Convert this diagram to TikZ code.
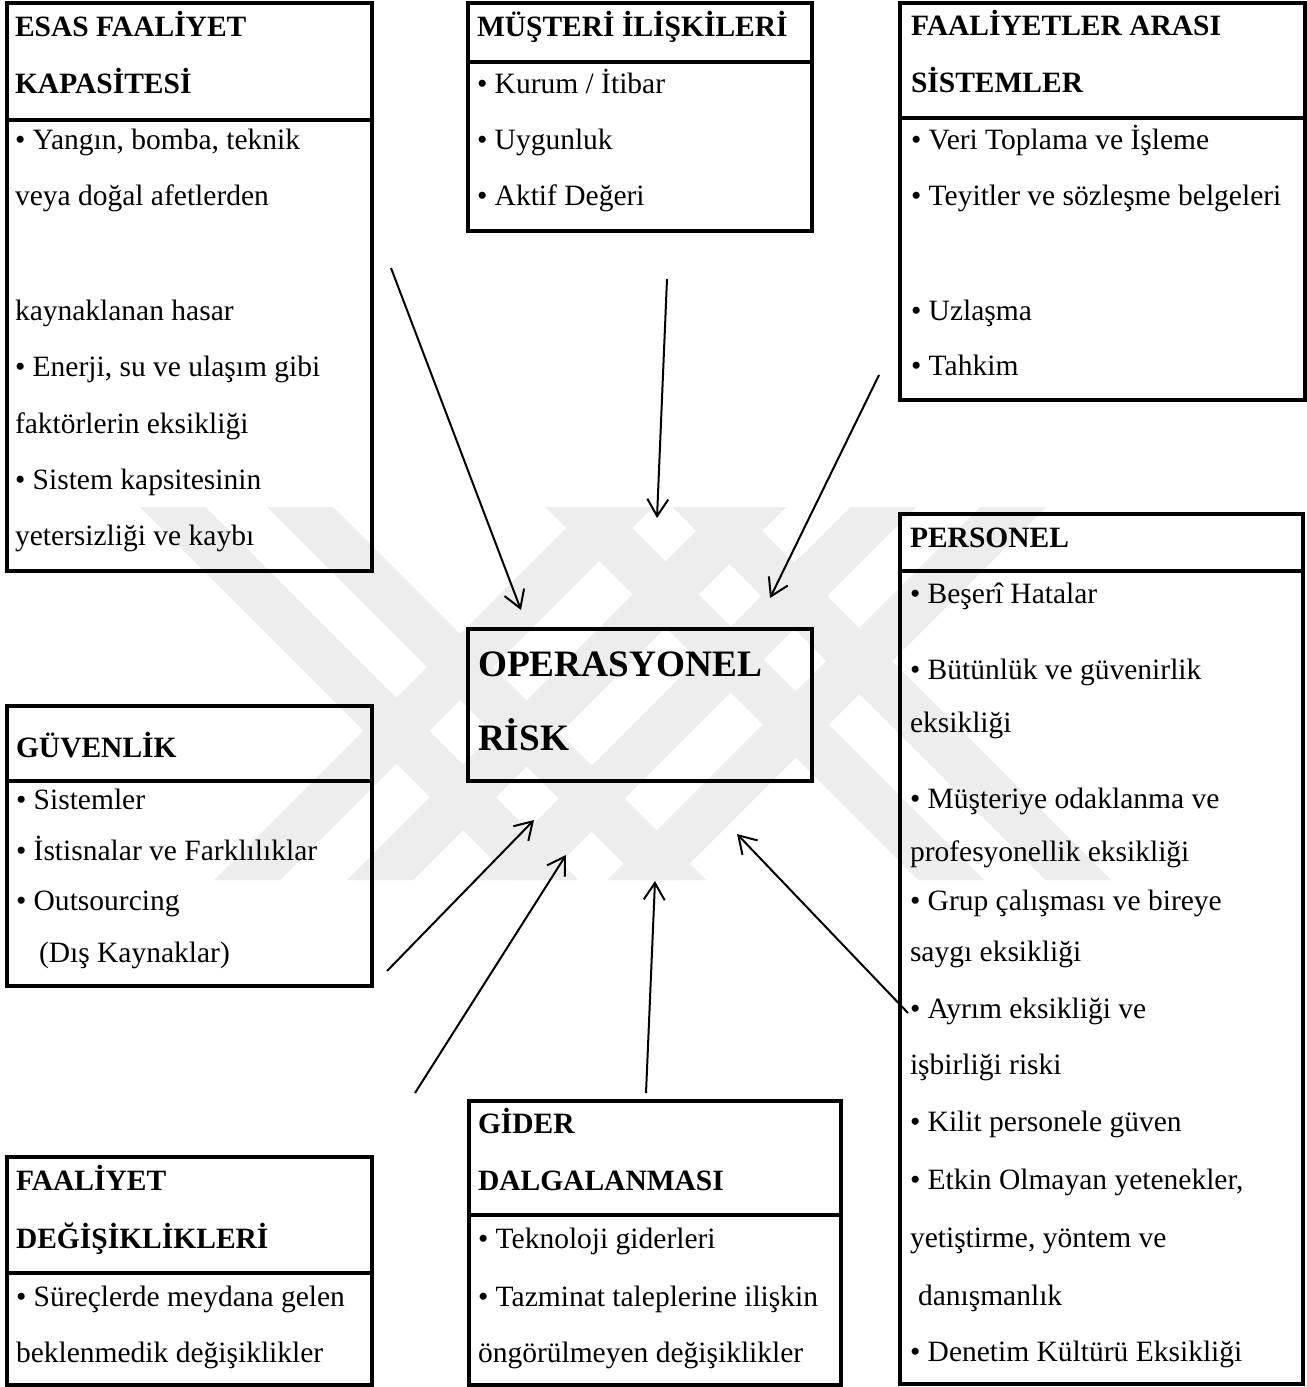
\documentclass[tikz,border=0pt]{standalone}
\usepackage{fontspec}
\setmainfont{Liberation Serif}
\usetikzlibrary{arrows.meta}

\tikzset{
  box/.style={draw, line width=3.2bp, rectangle, inner sep=0pt, outer sep=0pt, anchor=north west},
  sep/.style={line width=3.2bp},
  txt/.style={anchor=base west, inner sep=0pt, outer sep=0pt,
              font=\fontsize{29.5bp}{35bp}\selectfont},
  hd/.style={anchor=base west, inner sep=0pt, outer sep=0pt,
             font=\bfseries\fontsize{29.5bp}{35bp}\selectfont},
  big/.style={anchor=base west, inner sep=0pt, outer sep=0pt,
              font=\bfseries\fontsize{37.3bp}{44bp}\selectfont},
  arr/.style={line width=2bp,
              -{Straight Barb[length=17bp,width=21bp,line width=2bp]}},
  mark band/.style={fill=black!7, draw=none}
}

\begin{document}
\begin{tikzpicture}[x=1bp,y=-1bp]
\useasboundingbox (0,0) rectangle (1307,1387);
\fill[white] (0,0) rectangle (1307,1387);

% ---------- faint diagonal background emblem ----------
\foreach \xa in {140,267,545,672}
  \fill[mark band] (\xa,507) -- ++(66,0) -- ++(373,373) -- ++(-66,0) -- cycle;
\foreach \xa in {587,720,850,980}
  \fill[mark band] (\xa,507) -- ++(66,0) -- ++(-373,373) -- ++(-66,0) -- cycle;

% ---------- frames ----------
\node[box, minimum width=365bp, minimum height=568bp] (esas) at (7,3) {};
\draw[sep] (7,120) -- (372,120);
\node[box, minimum width=344bp, minimum height=228bp] (musteri) at (468,3) {};
\draw[sep] (468,62) -- (812,62);
\node[box, minimum width=405bp, minimum height=397bp] (arasi) at (900,3) {};
\draw[sep] (900,118) -- (1305,118);
\node[box, minimum width=403bp, minimum height=870bp] (personel) at (900,514) {};
\draw[sep] (900,571) -- (1303,571);
\node[box, minimum width=365bp, minimum height=280bp] (guvenlik) at (7,706) {};
\draw[sep] (7,781) -- (372,781);
\node[box, minimum width=365bp, minimum height=228bp] (degisim) at (7,1157) {};
\draw[sep] (7,1273) -- (372,1273);
\node[box, minimum width=372bp, minimum height=284bp] (gider) at (469,1101) {};
\draw[sep] (469,1215) -- (841,1215);
\node[box, minimum width=344bp, minimum height=152bp] (risk) at (468,629) {};

% ---------- ESAS FAALİYET KAPASİTESİ ----------
\node[hd]  (esas1) at (15,37)  {ESAS FAALİYET};
\node[hd]  (esas2) at (15,94)  {KAPASİTESİ};
\node[txt] (esas3) at (15,150) {• Yangın, bomba, teknik};
\node[txt] (esas4) at (15,206) {veya doğal afetlerden};
\node[txt] (esas5) at (15,320) {kaynaklanan hasar};
\node[txt] (esas6) at (15,376) {• Enerji, su ve ulaşım gibi};
\node[txt] (esas7) at (15,433) {faktörlerin eksikliği};
\node[txt] (esas8) at (15,489) {• Sistem kapsitesinin};
\node[txt] (esas9) at (15,545) {yetersizliği ve kaybı};

% ---------- MÜŞTERİ İLİŞKİLERİ ----------
\node[hd]  (mus1) at (477,37)  {MÜŞTERİ İLİŞKİLERİ};
\node[txt] (mus2) at (477,94)  {• Kurum / İtibar};
\node[txt] (mus3) at (477,150) {• Uygunluk};
\node[txt] (mus4) at (477,206) {• Aktif Değeri};

% ---------- FAALİYETLER ARASI SİSTEMLER ----------
\node[hd]  (ara1) at (911,36)  {FAALİYETLER ARASI};
\node[hd]  (ara2) at (911,93)  {SİSTEMLER};
\node[txt] (ara3) at (911,150) {• Veri Toplama ve İşleme};
\node[txt] (ara4) at (911,206) {• Teyitler ve sözleşme belgeleri};
\node[txt] (ara5) at (911,320) {• Uzlaşma};
\node[txt] (ara6) at (911,375) {• Tahkim};

% ---------- PERSONEL ----------
\node[hd]  (per1)  at (910,547)  {PERSONEL};
\node[txt] (per2)  at (910,603)  {• Beşerî Hatalar};
\node[txt] (per3)  at (910,679)  {• Bütünlük ve güvenirlik};
\node[txt] (per4)  at (910,732)  {eksikliği};
\node[txt] (per5)  at (910,808)  {• Müşteriye odaklanma ve};
\node[txt] (per6)  at (910,861)  {profesyonellik eksikliği};
\node[txt] (per7)  at (910,910)  {• Grup çalışması ve bireye};
\node[txt] (per8)  at (910,961)  {saygı eksikliği};
\node[txt] (per9)  at (910,1018) {• Ayrım eksikliği ve};
\node[txt] (per10) at (910,1074) {işbirliği riski};
\node[txt] (per11) at (910,1131) {• Kilit personele güven};
\node[txt] (per12) at (910,1189) {• Etkin Olmayan yetenekler,};
\node[txt] (per13) at (910,1247) {yetiştirme, yöntem ve};
\node[txt] (per14) at (918,1305) {danışmanlık};
\node[txt] (per15) at (910,1361) {• Denetim Kültürü Eksikliği};

% ---------- GÜVENLİK ----------
\node[hd]  (guv1) at (16,757) {GÜVENLİK};
\node[txt] (guv2) at (16,809) {• Sistemler};
\node[txt] (guv3) at (16,860) {• İstisnalar ve Farklılıklar};
\node[txt] (guv4) at (16,910) {• Outsourcing};
\node[txt] (guv5) at (39,962) {(Dış Kaynaklar)};

% ---------- FAALİYET DEĞİŞİKLİKLERİ ----------
\node[hd]  (deg1) at (16,1190) {FAALİYET};
\node[hd]  (deg2) at (16,1248) {DEĞİŞİKLİKLERİ};
\node[txt] (deg3) at (16,1306) {• Süreçlerde meydana gelen};
\node[txt] (deg4) at (16,1362) {beklenmedik değişiklikler};

% ---------- GİDER DALGALANMASI ----------
\node[hd]  (gid1) at (478,1133) {GİDER};
\node[hd]  (gid2) at (478,1190) {DALGALANMASI};
\node[txt] (gid3) at (478,1248) {• Teknoloji giderleri};
\node[txt] (gid4) at (478,1306) {• Tazminat taleplerine ilişkin};
\node[txt] (gid5) at (478,1362) {öngörülmeyen değişiklikler};

% ---------- OPERASYONEL RİSK ----------
\node[big] (risk1) at (478,676) {OPERASYONEL};
\node[big] (risk2) at (478,750) {RİSK};

% ---------- arrows towards the centre ----------
\coordinate (a1s) at (391,268);  \coordinate (a1e) at (521,610);
\coordinate (a2s) at (667,279);  \coordinate (a2e) at (657,518);
\coordinate (a3s) at (879,375);  \coordinate (a3e) at (770,598);
\coordinate (a4s) at (387,971);  \coordinate (a4e) at (534,820);
\coordinate (a5s) at (415,1093); \coordinate (a5e) at (566,855);
\coordinate (a6s) at (646,1093); \coordinate (a6e) at (655,881);
\coordinate (a7s) at (908,1013); \coordinate (a7e) at (737,834);

\draw[arr] (a1s) -- (a1e);
\draw[arr] (a2s) -- (a2e);
\draw[arr] (a3s) -- (a3e);
\draw[arr] (a4s) -- (a4e);
\draw[arr] (a5s) -- (a5e);
\draw[arr] (a6s) -- (a6e);
\draw[arr] (a7s) -- (a7e);
\end{tikzpicture}
\end{document}
